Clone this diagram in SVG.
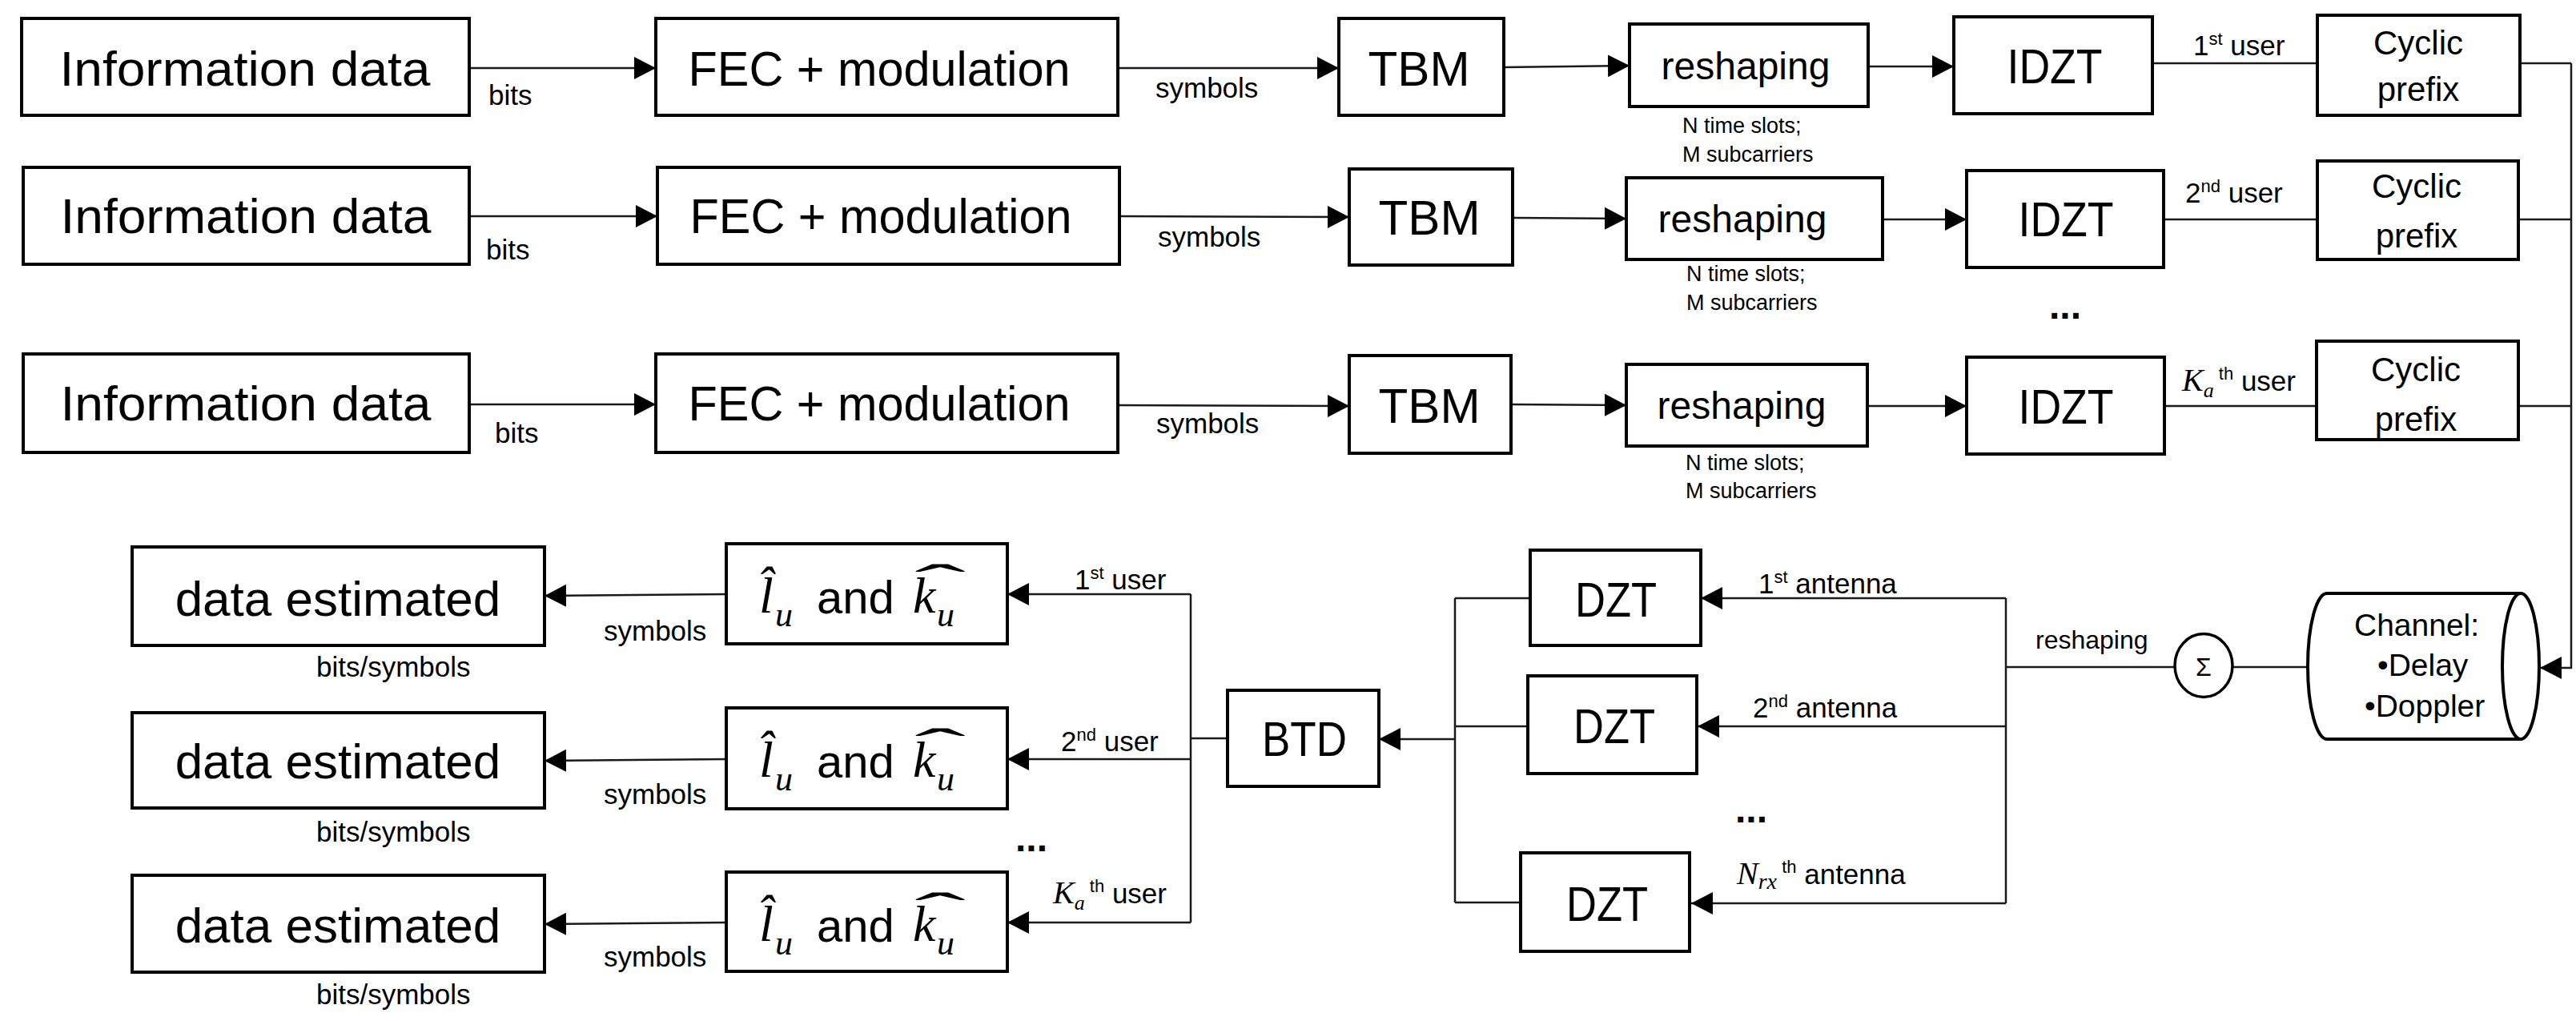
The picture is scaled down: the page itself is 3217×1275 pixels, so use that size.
<svg xmlns="http://www.w3.org/2000/svg" width="3217" height="1275" viewBox="0 0 3217 1275">
<defs>
<marker id="ah" markerUnits="userSpaceOnUse" markerWidth="28" markerHeight="30" refX="27" refY="15" orient="auto"><path d="M0,1 L27,15 L0,29 z" fill="#000"/></marker>
<style>
.box{fill:#fff;stroke:#000;stroke-width:4}
.c{fill:none;stroke:#1a1a1a;stroke-width:2.5}
.a{marker-end:url(#ah)}
text{font-family:"Liberation Sans",Arial,sans-serif;fill:#000}
.big{font-size:62px;text-anchor:middle}
.mid{font-size:48px;text-anchor:middle}
.cp{font-size:42px;text-anchor:middle}
.lbl{font-size:35px}
.note{font-size:27px}
.mi{font-family:"Liberation Serif","Times New Roman",serif;font-style:italic}
.ms{font-family:"Liberation Serif","Times New Roman",serif}
.dots{font-size:48px;font-weight:bold}
</style>
</defs>
<rect width="3217" height="1275" fill="#fff"/>

<g id="connectors">
<path class="c a" d="M586,85 L819,85"/>
<path class="c a" d="M1396,85 L1672,85"/>
<path class="c a" d="M1878,84 L2035,82"/>
<path class="c a" d="M2333,83 L2440,83"/>
<path class="c" d="M2688,79 L2894,79"/>
<path class="c" d="M3147,79 L3211,79"/>
<path class="c a" d="M586,270 L821,270"/>
<path class="c a" d="M1398,270 L1685,271"/>
<path class="c a" d="M1889,272 L2031,273"/>
<path class="c a" d="M2351,274 L2456,274"/>
<path class="c" d="M2702,274 L2894,274"/>
<path class="c" d="M3145,274 L3211,274"/>
<path class="c a" d="M586,505 L819,505"/>
<path class="c a" d="M1396,506 L1685,507"/>
<path class="c a" d="M1887,505 L2031,506"/>
<path class="c a" d="M2332,507 L2456,507"/>
<path class="c" d="M2703,507 L2893,507"/>
<path class="c" d="M3145,507 L3211,507"/>
<path class="c a" d="M3211,79 V834 H3172"/>
<path class="c" d="M2882,833 L2788,833"/>
<path class="c" d="M2716,833 L2505,833"/>
<path class="c" d="M2505,747 V1128"/>
<path class="c a" d="M2505,747 L2124,747"/>
<path class="c a" d="M2505,907 L2120,907"/>
<path class="c a" d="M2505,1128 L2112,1128"/>
<path class="c" d="M1911,747 L1817,747"/>
<path class="c" d="M1908,907 L1817,907"/>
<path class="c" d="M1899,1127 L1817,1127"/>
<path class="c" d="M1817,747 V1127"/>
<path class="c a" d="M1817,923 L1722,923"/>
<path class="c" d="M1533,922 L1487,922"/>
<path class="c" d="M1487,742 V1152"/>
<path class="c a" d="M1487,742 L1258,742"/>
<path class="c a" d="M1487,948 L1258,948"/>
<path class="c a" d="M1487,1152 L1258,1152"/>
<path class="c a" d="M907,742 L680,744"/>
<path class="c a" d="M907,948 L680,950"/>
<path class="c a" d="M907,1152 L680,1154"/>
</g>

<g id="labels">
<text class="lbl" x="610" y="131">bits</text>
<text class="lbl" x="607" y="324">bits</text>
<text class="lbl" x="618" y="553">bits</text>
<text class="lbl" x="1443" y="122">symbols</text>
<text class="lbl" x="1446" y="308">symbols</text>
<text class="lbl" x="1444" y="541">symbols</text>
<text class="note" x="2101" y="166">N time slots;</text>
<text class="note" x="2101" y="202">M subcarriers</text>
<text class="note" x="2106" y="351">N time slots;</text>
<text class="note" x="2106" y="387">M subcarriers</text>
<text class="note" x="2105" y="587">N time slots;</text>
<text class="note" x="2105" y="622">M subcarriers</text>
<text class="lbl" x="2739" y="69">1<tspan font-size="22" dy="-13">st</tspan><tspan dy="13"> user</tspan></text>
<text class="lbl" x="2729" y="253">2<tspan font-size="22" dy="-13">nd</tspan><tspan dy="13"> user</tspan></text>
<text class="lbl" x="2725" y="488"><tspan class="mi" font-size="40">K</tspan><tspan class="mi" font-size="26" dy="8">a</tspan><tspan font-size="22" dy="-22"> th</tspan><tspan dy="14"> user</tspan></text>
<text class="dots" x="2559" y="398">...</text>
<text class="lbl" x="1342" y="736">1<tspan font-size="22" dy="-13">st</tspan><tspan dy="13"> user</tspan></text>
<text class="lbl" x="1325" y="938">2<tspan font-size="22" dy="-13">nd</tspan><tspan dy="13"> user</tspan></text>
<text class="lbl" x="1315" y="1128"><tspan class="mi" font-size="40">K</tspan><tspan class="mi" font-size="26" dy="8">a</tspan><tspan font-size="22" dy="-22"> th</tspan><tspan dy="14"> user</tspan></text>
<text class="dots" x="1268" y="1063">...</text>
<text class="lbl" x="2196" y="741">1<tspan font-size="22" dy="-13">st</tspan><tspan dy="13"> antenna</tspan></text>
<text class="lbl" x="2189" y="896">2<tspan font-size="22" dy="-13">nd</tspan><tspan dy="13"> antenna</tspan></text>
<text class="lbl" x="2169" y="1104"><tspan class="mi" font-size="40">N</tspan><tspan class="mi" font-size="28" dy="6">rx</tspan><tspan font-size="22" dy="-20"> th</tspan><tspan dy="14"> antenna</tspan></text>
<text class="dots" x="2167" y="1027">...</text>
<text class="lbl" x="754" y="800">symbols</text>
<text class="lbl" x="754" y="1004">symbols</text>
<text class="lbl" x="754" y="1207">symbols</text>
<text class="lbl" x="395" y="845">bits/symbols</text>
<text class="lbl" x="395" y="1051">bits/symbols</text>
<text class="lbl" x="395" y="1254">bits/symbols</text>
<text x="2542" y="810" font-size="32">reshaping</text>
</g>

<g id="info1"><rect class="box" x="27" y="23" width="559" height="121"/><text class="big" x="306" y="107" textLength="463" lengthAdjust="spacingAndGlyphs">Information data</text></g>
<g id="info2"><rect class="box" x="29" y="209" width="557" height="121"/><text class="big" x="307" y="291" textLength="463" lengthAdjust="spacingAndGlyphs">Information data</text></g>
<g id="info3"><rect class="box" x="29" y="442" width="557" height="123"/><text class="big" x="307" y="525" textLength="463" lengthAdjust="spacingAndGlyphs">Information data</text></g>

<g id="fec1"><rect class="box" x="819" y="23" width="577" height="121"/><text class="big" x="1098" y="107" textLength="477" lengthAdjust="spacingAndGlyphs">FEC + modulation</text></g>
<g id="fec2"><rect class="box" x="821" y="209" width="577" height="121"/><text class="big" x="1100" y="291" textLength="477" lengthAdjust="spacingAndGlyphs">FEC + modulation</text></g>
<g id="fec3"><rect class="box" x="819" y="442" width="577" height="123"/><text class="big" x="1098" y="525" textLength="477" lengthAdjust="spacingAndGlyphs">FEC + modulation</text></g>

<g id="tbm1"><rect class="box" x="1672" y="23" width="206" height="121"/><text class="big" x="1772" y="107" textLength="127" lengthAdjust="spacingAndGlyphs">TBM</text></g>
<g id="tbm2"><rect class="box" x="1685" y="211" width="204" height="120"/><text class="big" x="1785" y="293" textLength="127" lengthAdjust="spacingAndGlyphs">TBM</text></g>
<g id="tbm3"><rect class="box" x="1685" y="444" width="202" height="122"/><text class="big" x="1785" y="528" textLength="127" lengthAdjust="spacingAndGlyphs">TBM</text></g>

<g id="reshaping1"><rect class="box" x="2035" y="30" width="298" height="103"/><text class="mid" x="2180" y="99">reshaping</text></g>
<g id="reshaping2"><rect class="box" x="2031" y="222" width="320" height="102"/><text class="mid" x="2176" y="290">reshaping</text></g>
<g id="reshaping3"><rect class="box" x="2031" y="455" width="301" height="102"/><text class="mid" x="2175" y="523">reshaping</text></g>

<g id="idzt1"><rect class="box" x="2440" y="21" width="248" height="121"/><text class="big" x="2566" y="104" textLength="119" lengthAdjust="spacingAndGlyphs">IDZT</text></g>
<g id="idzt2"><rect class="box" x="2456" y="213" width="246" height="121"/><text class="big" x="2580" y="295" textLength="119" lengthAdjust="spacingAndGlyphs">IDZT</text></g>
<g id="idzt3"><rect class="box" x="2456" y="446" width="247" height="121"/><text class="big" x="2580" y="529" textLength="119" lengthAdjust="spacingAndGlyphs">IDZT</text></g>

<g id="cp1"><rect class="box" x="2894" y="19" width="253" height="125"/><text class="cp" x="3020" y="68">Cyclic</text><text class="cp" x="3020" y="126">prefix</text></g>
<g id="cp2"><rect class="box" x="2894" y="201" width="251" height="123"/><text class="cp" x="3018" y="247">Cyclic</text><text class="cp" x="3018" y="309">prefix</text></g>
<g id="cp3"><rect class="box" x="2893" y="426" width="252" height="123"/><text class="cp" x="3017" y="476">Cyclic</text><text class="cp" x="3017" y="538">prefix</text></g>

<g id="channel">
<path class="box" d="M2906,741 L3148,741 L3148,923 L2906,923 A24,91 0 0 1 2906,741 z"/>
<ellipse class="box" cx="3148" cy="832" rx="23" ry="91"/>
<text x="2940" y="794" font-size="39">Channel:</text>
<text x="2969" y="844" font-size="39">•Delay</text>
<text x="2953" y="895" font-size="39">•Doppler</text>
</g>

<g id="sum"><ellipse cx="2752" cy="831" rx="36" ry="39.5" fill="#fff" stroke="#000" stroke-width="3.5"/><text x="2752" y="844" font-size="32" text-anchor="middle">Σ</text></g>

<g id="dzt1"><rect class="box" x="1911" y="687" width="213" height="119"/><text class="big" x="2018" y="770" textLength="102" lengthAdjust="spacingAndGlyphs">DZT</text></g>
<g id="dzt2"><rect class="box" x="1908" y="844" width="211" height="122"/><text class="big" x="2016" y="928" textLength="102" lengthAdjust="spacingAndGlyphs">DZT</text></g>
<g id="dzt3"><rect class="box" x="1899" y="1065" width="211" height="123"/><text class="big" x="2007" y="1150" textLength="102" lengthAdjust="spacingAndGlyphs">DZT</text></g>

<g id="btd"><rect class="box" x="1533" y="862" width="189" height="120"/><text class="big" x="1629" y="944" textLength="106" lengthAdjust="spacingAndGlyphs">BTD</text></g>

<g id="lk1"><rect class="box" x="907" y="679" width="351" height="125"/>
<text font-size="58"><tspan class="mi" x="948" y="765" font-size="64">l&#770;</tspan><tspan class="mi" x="968" y="782" font-size="44">u</tspan><tspan x="1020" y="766">and</tspan><tspan class="mi" x="1140" y="765" font-size="64">k</tspan><tspan class="mi" x="1170" y="782" font-size="44">u</tspan><tspan class="ms" x="1142" y="749" font-size="64" textLength="64" lengthAdjust="spacingAndGlyphs">ˆ</tspan></text>
</g>
<g id="lk2"><rect class="box" x="907" y="884" width="351" height="126"/>
<text font-size="58"><tspan class="mi" x="948" y="970" font-size="64">l&#770;</tspan><tspan class="mi" x="968" y="987" font-size="44">u</tspan><tspan x="1020" y="971">and</tspan><tspan class="mi" x="1140" y="970" font-size="64">k</tspan><tspan class="mi" x="1170" y="987" font-size="44">u</tspan><tspan class="ms" x="1142" y="954" font-size="64" textLength="64" lengthAdjust="spacingAndGlyphs">ˆ</tspan></text>
</g>
<g id="lk3"><rect class="box" x="907" y="1089" width="351" height="124"/>
<text font-size="58"><tspan class="mi" x="948" y="1175" font-size="64">l&#770;</tspan><tspan class="mi" x="968" y="1192" font-size="44">u</tspan><tspan x="1020" y="1176">and</tspan><tspan class="mi" x="1140" y="1175" font-size="64">k</tspan><tspan class="mi" x="1170" y="1192" font-size="44">u</tspan><tspan class="ms" x="1142" y="1159" font-size="64" textLength="64" lengthAdjust="spacingAndGlyphs">ˆ</tspan></text>
</g>

<g id="est1"><rect class="box" x="165" y="683" width="515" height="123"/><text class="big" x="422" y="769">data estimated</text></g>
<g id="est2"><rect class="box" x="165" y="890" width="515" height="119"/><text class="big" x="422" y="972">data estimated</text></g>
<g id="est3"><rect class="box" x="165" y="1093" width="515" height="121"/><text class="big" x="422" y="1177">data estimated</text></g>
</svg>
